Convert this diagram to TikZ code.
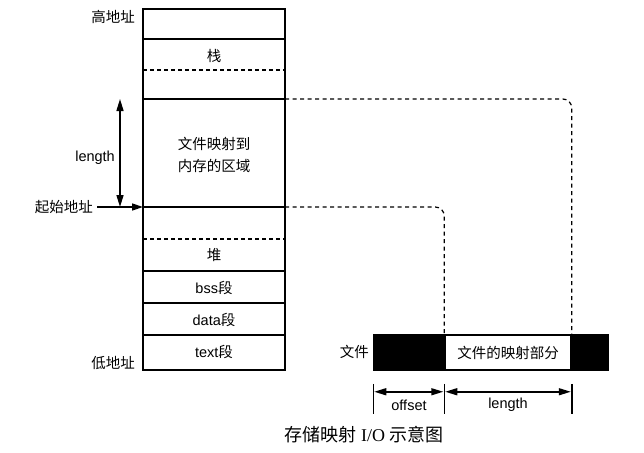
\documentclass[tikz,border=0pt]{standalone}
\usepackage{fontspec}
\setmainfont{Liberation Sans}
\newfontfamily\cjk{Noto Sans CJK SC}
\newfontfamily\capfont{Liberation Serif}
\usetikzlibrary{arrows.meta,positioning}
\tikzset{
  lbl/.style={font=\fontsize{14.5}{17}\selectfont, inner sep=0pt},
  sep/.style={line width=1.5pt},
  cut/.style={line width=1.2pt, dash pattern=on 4pt off 3pt},
  link/.style={line width=1.2pt, dash pattern=on 4pt off 3.5pt, rounded corners=9pt},
  tip/.style={-{Triangle[length=11pt,width=7pt]}, line width=1.5pt},
  dim/.style={{Triangle[length=12pt,width=7pt]}-{Triangle[length=12pt,width=7pt]}, line width=1.5pt},
  bar/.style={draw, line width=1.5pt, minimum height=35pt, inner sep=0pt},
}
\begin{document}
\begin{tikzpicture}[x=1pt,y=-1pt]
\useasboundingbox (0,0) rectangle (644,452);
\draw[sep] (143,9) rectangle (285,370);
\foreach \y in {39,99,207,271,303,335}
  \draw[sep] (143,\y) -- (285,\y);
\foreach \y in {70,239}
  \draw[cut] (143,\y) -- (285,\y);
\coordinate (mtop) at (285,99);
\coordinate (mbot) at (285,207);
\coordinate (mstart) at (143,207);
\coordinate (lentop) at (120,99);
\coordinate (lenbot) at (120,207);

\node[lbl] (stack) at (214,56) {\cjk 栈};
\node[lbl,align=center] (mmap) at (214,155) {\cjk 文件映射到\\[5pt]\cjk 内存的区域};
\node[lbl] (heap) at (214,255) {\cjk 堆};
\node[lbl] (bss) at (214,288) {bss{\cjk 段}};
\node[lbl] (data) at (214,320) {data{\cjk 段}};
\node[lbl] (text) at (214,352) {text{\cjk 段}};
\node[lbl,anchor=east] (high) at (135,17) {\cjk 高地址};
\node[lbl,anchor=east] (low) at (135,363) {\cjk 低地址};
\node[lbl,anchor=east] (start) at (93,207) {\cjk 起始地址};
\node[lbl,anchor=east] (lenlabel) at (115,158) {length};

\draw[tip] (start.east) ++(4,0) -- (mstart);
\draw[dim] (lentop) -- (lenbot);

\node[bar,fill=black,minimum width=71pt] (head) at (409.5,352.5) {};
\node[bar,fill=white,minimum width=126pt,lbl,minimum height=35pt] (part) at (508,352.5) {\cjk 文件的映射部分};
\node[bar,fill=black,minimum width=37pt] (tail) at (589.5,352.5) {};
\node[lbl,anchor=east] (file) at (369,352) {\cjk 文件};

\draw[link] (mtop) -- (part.north east |- mtop) -- (part.north east);
\draw[link] (mbot) -- (part.north west |- mbot) -- (part.north west);

\foreach \n/\a in {t1/head.west,t2/part.west,t3/part.east}
  \coordinate (\n) at ([yshift=-13pt]\a |- head.south);
\foreach \n in {t1,t2,t3}
  \draw[line width=1.5pt] (\n) -- ++(0,30);
\draw[dim] ([xshift=1pt,yshift=-8pt]t1) -- ([xshift=-1pt,yshift=-8pt]t2);
\draw[dim] ([xshift=1pt,yshift=-8pt]t2) -- ([xshift=-1pt,yshift=-8pt]t3);
\node[lbl] (offlabel) at (409,405) {offset};
\node[lbl] (lenlabel2) at (508,405) {length};

\node[font=\fontsize{18}{21}\selectfont, inner sep=0pt] (caption) at (364,435) {\cjk 存储映射 {\capfont I/O} 示意图};
\end{tikzpicture}
\end{document}
